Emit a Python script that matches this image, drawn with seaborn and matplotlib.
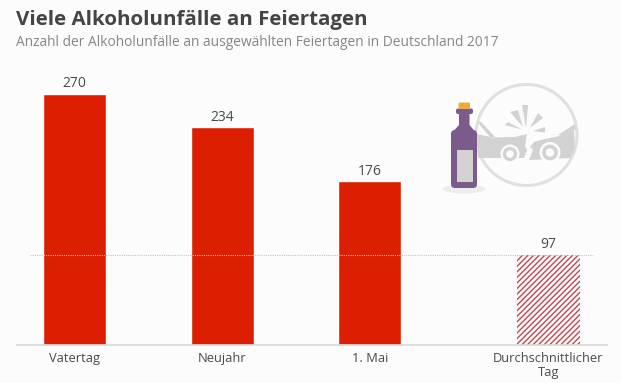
"""Viele Alkoholunfaelle an Feiertagen - bar chart with icon"""

import matplotlib
matplotlib.use('Agg')
import matplotlib.pyplot as plt
from matplotlib.patches import Circle, Ellipse, Polygon, Rectangle, FancyBboxPatch
import seaborn as sns

categories = ['Vatertag', 'Neujahr', '1. Mai', 'Durchschnittlicher\nTag']
values = [270, 234, 176, 97]
order_pos = [0, 1, 2, 3.21]

RED = '#dc1f00'
HATCH = '#c4464f'
BG = '#fcfcfc'
TEXT = '#4a4a4a'
W, H = 621, 383

sns.set_theme(style='white')
plt.rcParams['font.family'] = ['Open Sans', 'DejaVu Sans']
plt.rcParams['hatch.linewidth'] = 1.0

fig = plt.figure(figsize=(W / 100, H / 100), dpi=100, facecolor=BG)
ax = fig.add_axes([17 / W, (H - 345) / H, 590 / W, 285 / H], facecolor='none')

sns.barplot(x=order_pos, y=values, native_scale=True, width=0.425, color=RED,
            saturation=1, ax=ax)
ax.set_xlim((17 - 74.7) / 147.5, (607 - 74.7) / 147.5)
ax.set_ylim(0, 285 / 0.93)

# last bar is the hatched average
last = ax.patches[-1]
last.set_facecolor('none')
last.set_edgecolor(HATCH)
last.set_hatch('//////')
last.set_linewidth(0)

ax.axhline(97, xmin=13 / 590, xmax=576 / 590, color='#c4c4c4', lw=0.8, ls=(0, (1, 1)), zorder=1)

for c in ax.containers:
    ax.bar_label(c, labels=[str(v) for v in values], padding=2, fontsize=10, color=TEXT)

ax.set_xticks(order_pos)
ax.set_xticklabels(categories, fontsize=9.3, color=TEXT, linespacing=1.1)
ax.tick_params(axis='x', length=0, pad=5)
ax.set_yticks([])
ax.set_xlabel('')
ax.set_ylabel('')
sns.despine(ax=ax, left=True)
ax.spines['bottom'].set_color('#d8d8d8')
ax.spines['bottom'].set_linewidth(1.2)

fig.text(16 / W, 1 - 25.5 / H, 'Viele Alkoholunfälle an Feiertagen', fontsize=14.75,
         fontweight='bold', color='#444444')
fig.text(16 / W, 1 - 46 / H, 'Anzahl der Alkoholunfälle an ausgewählten Feiertagen in Deutschland 2017',
         fontsize=9.9, color='#858585')

# icon overlay in pixel coordinates
icon = fig.add_axes([0, 0, 1, 1], facecolor='none')
icon.set_xlim(0, W)
icon.set_ylim(H, 0)
icon.axis('off')

GREY = '#d2d2d2'
PURPLE = '#7d5a8c'
icon.add_patch(Circle((526.5, 135), 50.5, fc='none', ec='#e0e0e0', lw=2.2))

# cars
icon.add_patch(Polygon([(477, 134), (493, 137.5), (515, 137), (527, 134), (525, 146),
                        (527, 150), (524, 158), (478, 158)], fc=GREY, ec='none'))
icon.add_patch(Polygon([(477, 121.5), (481, 122), (495, 137), (490, 137)], fc=GREY, ec='none'))
icon.add_patch(Polygon([(574, 130), (560, 136), (545, 139), (534, 142), (530, 147),
                        (533, 150), (529, 160), (570, 158), (575, 148)], fc=GREY, ec='none'))
icon.add_patch(Polygon([(575, 124), (576, 129), (563, 136), (558, 135)], fc=GREY, ec='none'))
for cx, cy, r in [(510, 154, 9.5), (550, 152.5, 10.5)]:
    icon.add_patch(Circle((cx, cy), r, fc=BG, ec='none'))
    icon.add_patch(Circle((cx, cy), r * 0.75, fc=GREY, ec='none'))
    icon.add_patch(Circle((cx, cy), r * 0.4, fc=BG, ec='none'))

# impact rays
icon.add_patch(Polygon([(522, 105), (528, 105), (526, 128)], fc=GREY, ec='none'))
icon.add_patch(Polygon([(510, 112), (518, 110), (523, 127)], fc=GREY, ec='none'))
icon.add_patch(Polygon([(505, 125), (508, 122), (523, 130)], fc=GREY, ec='none'))
icon.add_patch(Polygon([(538, 113), (543, 118), (530, 128)], fc=GREY, ec='none'))
icon.add_patch(Polygon([(545, 127), (545, 132.5), (533, 131)], fc=GREY, ec='none'))

# bottle
icon.add_patch(Ellipse((464, 189), 42, 9, fc='#ededed', ec='none'))
icon.add_patch(FancyBboxPatch((451, 130), 26, 58, boxstyle='round,pad=0,rounding_size=4',
                              fc=PURPLE, ec='none'))
icon.add_patch(Polygon([(459, 113), (469.5, 113), (469.5, 125), (477, 134), (451, 134), (459, 125)],
                       fc=PURPLE, ec='none'))
icon.add_patch(FancyBboxPatch((456, 108.5), 17, 5.5, boxstyle='round,pad=0,rounding_size=2',
                              fc=PURPLE, ec='none'))
icon.add_patch(FancyBboxPatch((458.5, 102.5), 11.5, 6.5, boxstyle='round,pad=0,rounding_size=1.5',
                              fc='#eeaa3c', ec='none'))
icon.add_patch(Rectangle((457, 150), 15.5, 32, fc='#d2d2d2', ec='none'))

fig.savefig('out.png', dpi=100, facecolor=BG)
